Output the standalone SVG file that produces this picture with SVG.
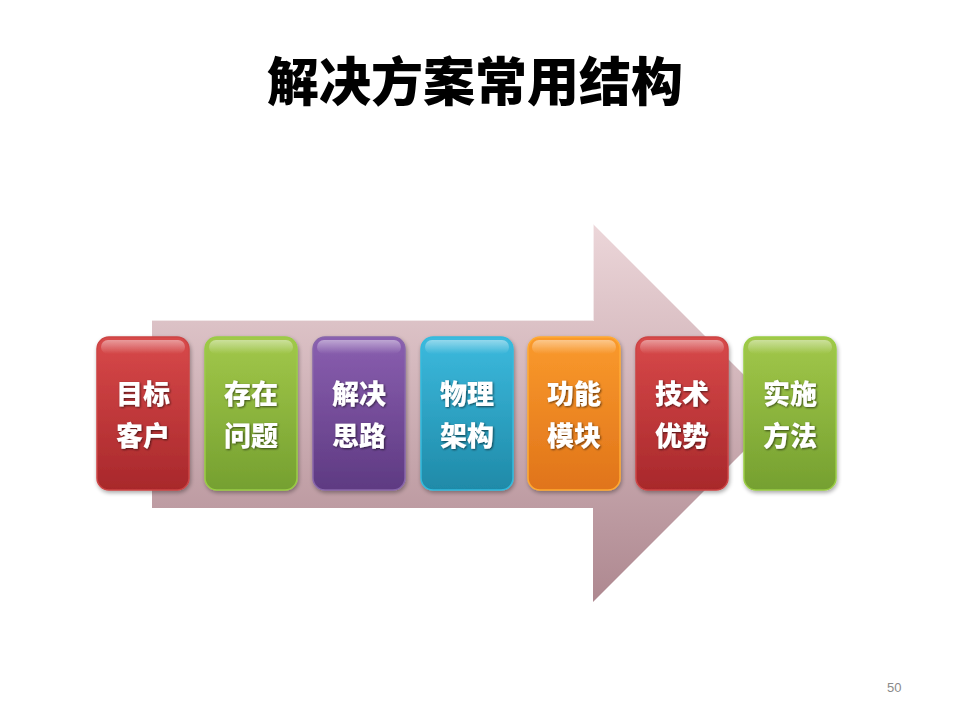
<svg xmlns="http://www.w3.org/2000/svg" width="960" height="720" viewBox="0 0 960 720">
<style>
.t{font-family:"Noto Sans CJK SC","Noto Sans",sans-serif;font-weight:900;fill:#fff;font-size:27px;text-anchor:middle}
.title{font-family:"Noto Sans CJK SC","Noto Sans",sans-serif;font-weight:900;fill:#000;font-size:52px;text-anchor:middle}
.pg{font-family:"Liberation Sans",sans-serif;fill:#8a8a8a;font-size:13px}
.box{stroke-width:1.5}
</style>
<defs>
<linearGradient id="arr" x1="0" y1="0" x2="0" y2="1">
<stop offset="0" stop-color="#ecd6d9"/>
<stop offset="1" stop-color="#ae8890"/>
</linearGradient>
<linearGradient id="red" x1="0" y1="0" x2="0" y2="1"><stop offset="0" stop-color="#d8494a"/><stop offset="1" stop-color="#a8282b"/></linearGradient>
<linearGradient id="green" x1="0" y1="0" x2="0" y2="1"><stop offset="0" stop-color="#a2c84a"/><stop offset="1" stop-color="#75a030"/></linearGradient>
<linearGradient id="purple" x1="0" y1="0" x2="0" y2="1"><stop offset="0" stop-color="#8a5fb0"/><stop offset="1" stop-color="#5e3a82"/></linearGradient>
<linearGradient id="cyan" x1="0" y1="0" x2="0" y2="1"><stop offset="0" stop-color="#3cbade"/><stop offset="1" stop-color="#1f8aa8"/></linearGradient>
<linearGradient id="orange" x1="0" y1="0" x2="0" y2="1"><stop offset="0" stop-color="#fa9a2c"/><stop offset="1" stop-color="#e0741a"/></linearGradient>
<linearGradient id="gloss" x1="0" y1="0" x2="0" y2="1"><stop offset="0" stop-color="#fff" stop-opacity="0.45"/><stop offset="1" stop-color="#fff" stop-opacity="0"/></linearGradient>
<filter id="sh" x="-20%" y="-20%" width="140%" height="140%"><feGaussianBlur in="SourceAlpha" stdDeviation="2"/><feOffset dx="1" dy="2"/><feComponentTransfer><feFuncA type="linear" slope="0.35"/></feComponentTransfer><feMerge><feMergeNode/><feMergeNode in="SourceGraphic"/></feMerge></filter>
<filter id="ts" x="-20%" y="-20%" width="140%" height="140%"><feGaussianBlur in="SourceAlpha" stdDeviation="1"/><feOffset dx="1" dy="1"/><feComponentTransfer><feFuncA type="linear" slope="0.6"/></feComponentTransfer><feMerge><feMergeNode/><feMergeNode in="SourceGraphic"/></feMerge></filter>
</defs>
<rect width="960" height="720" fill="#fff"/>
<text class="title" x="475" y="101">解决方案常用结构</text>
<g id="arrow">
<path d="M152,320 H593 V224 L782,413 L593,602 V508 H152 Z" fill="url(#arr)"/>
<path d="M152,320 H593 V224" fill="none" stroke="#fff" stroke-opacity="0.6" stroke-width="2"/>
</g>
<g id="connectors"></g>
<g id="n1" filter="url(#sh)"><rect class="box" x="97" y="337" width="92" height="153" rx="12" fill="url(#red)" stroke="#c44"/><rect x="101" y="340" width="84" height="14" rx="7" fill="url(#gloss)"/><g filter="url(#ts)"><text class="t" x="143" y="404">目标</text><text class="t" x="143" y="446">客户</text></g></g>
<g id="n2" filter="url(#sh)"><rect class="box" x="205" y="337" width="92" height="153" rx="12" fill="url(#green)" stroke="#9c4"/><rect x="209" y="340" width="84" height="14" rx="7" fill="url(#gloss)"/><g filter="url(#ts)"><text class="t" x="251" y="404">存在</text><text class="t" x="251" y="446">问题</text></g></g>
<g id="n3" filter="url(#sh)"><rect class="box" x="313" y="337" width="92" height="153" rx="12" fill="url(#purple)" stroke="#86a"/><rect x="317" y="340" width="84" height="14" rx="7" fill="url(#gloss)"/><g filter="url(#ts)"><text class="t" x="359" y="404">解决</text><text class="t" x="359" y="446">思路</text></g></g>
<g id="n4" filter="url(#sh)"><rect class="box" x="421" y="337" width="92" height="153" rx="12" fill="url(#cyan)" stroke="#3bd"/><rect x="425" y="340" width="84" height="14" rx="7" fill="url(#gloss)"/><g filter="url(#ts)"><text class="t" x="467" y="404">物理</text><text class="t" x="467" y="446">架构</text></g></g>
<g id="n5" filter="url(#sh)"><rect class="box" x="528" y="337" width="92" height="153" rx="12" fill="url(#orange)" stroke="#fa3"/><rect x="532" y="340" width="84" height="14" rx="7" fill="url(#gloss)"/><g filter="url(#ts)"><text class="t" x="574" y="404">功能</text><text class="t" x="574" y="446">模块</text></g></g>
<g id="n6" filter="url(#sh)"><rect class="box" x="636" y="337" width="92" height="153" rx="12" fill="url(#red)" stroke="#c44"/><rect x="640" y="340" width="84" height="14" rx="7" fill="url(#gloss)"/><g filter="url(#ts)"><text class="t" x="682" y="404">技术</text><text class="t" x="682" y="446">优势</text></g></g>
<g id="n7" filter="url(#sh)"><rect class="box" x="744" y="337" width="92" height="153" rx="12" fill="url(#green)" stroke="#9c4"/><rect x="748" y="340" width="84" height="14" rx="7" fill="url(#gloss)"/><g filter="url(#ts)"><text class="t" x="790" y="404">实施</text><text class="t" x="790" y="446">方法</text></g></g>
<text class="pg" x="887" y="692">50</text>
</svg>
